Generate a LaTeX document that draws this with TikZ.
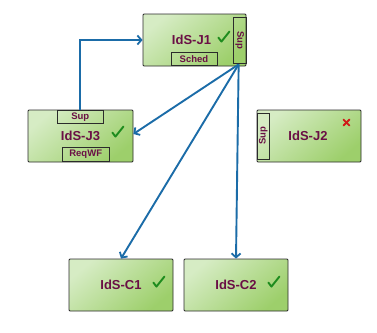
\documentclass[tikz,border=0pt]{standalone}
\usepackage{fontspec}
\setmainfont{Liberation Sans}
\usetikzlibrary{arrows.meta,calc}
\definecolor{gl}{HTML}{D6ECC4}
\definecolor{gd}{HTML}{9DCF6B}
\definecolor{txt}{HTML}{6A0F45}
\definecolor{edge}{HTML}{2B2B2B}
\definecolor{arr}{HTML}{1B6CA8}
\definecolor{ok}{HTML}{1E8C1E}
\definecolor{bad}{HTML}{D01818}
\tikzset{
  ids/.style={draw=edge, line width=0.8pt, rounded corners=1pt,
    top color=gl, bottom color=gd, shading angle=40,
    minimum width=104pt, minimum height=52pt, inner sep=0pt,
    text=txt, font=\bfseries\fontsize{13}{14}\selectfont},
  tabh/.style={draw=edge, line width=0.8pt, minimum width=46pt, minimum height=13pt,
    inner sep=0pt, text=txt, font=\bfseries\fontsize{9.5}{10}\selectfont},
  tabv/.style={draw=edge, line width=0.8pt, minimum width=12.7pt, minimum height=46pt,
    inner sep=0pt},
  tabtxt/.style={text=txt, font=\bfseries\fontsize{9.5}{10}\selectfont, inner sep=0pt},
  conn/.style={draw=arr, line width=1.9pt, -{Straight Barb[length=4pt,width=9pt,line width=1.8pt]}},
  okmark/.style={draw=ok, line width=1.9pt, line cap=round, line join=round},
  badmark/.style={draw=bad, line width=1.8pt, line cap=round}
}
\begin{document}
\begin{tikzpicture}[x=1pt,y=-1pt]
\useasboundingbox (0,0) rectangle (377,332);
\fill[white] (0,0) rectangle (377,332);
% boxes
\node[ids, minimum width=103pt] (j1) at (194.5,40) {\hspace*{-6pt}IdS-J1};
\node[ids, minimum width=105pt] (j3) at (80.5,136) {IdS-J3};
\node[ids] (j2) at (309,136) {\hspace*{-2pt}IdS-J2};
\node[ids] (c1) at (121,285) {IdS-C1};
\node[ids] (c2) at (236,285) {IdS-C2};
% tabs
\node[tabv, anchor=east] (j1sup) at (j1.east) {};
\node[tabtxt, rotate=-90] (j1suptxt) at (j1sup.center) {Sup};
\node[tabh, anchor=south] (j1sched) at (194,66) {Sched};
\node[tabh, anchor=north] (j3sup) at (80.3,110) {Sup};
\node[tabh, anchor=south, minimum width=46.7pt, minimum height=14pt] (j3req) at (85.7,162) {ReqWF};
\node[tabv, anchor=west] (j2sup) at (j2.west) {};
\node[tabtxt, rotate=90] (j2suptxt) at (j2sup.center) {Sup};
% status marks
\draw[okmark] ($(j1.north east)+(-28,24)$) -- ($(j1.north east)+(-25,28)$) -- ($(j1.north east)+(-17,18)$);
\draw[okmark] ($(j3.north east)+(-21,23)$) -- ($(j3.north east)+(-18,27)$) -- ($(j3.north east)+(-10,17)$);
\draw[okmark] ($(c1.north east)+(-20,24)$) -- ($(c1.north east)+(-17,28)$) -- ($(c1.north east)+(-9,18)$);
\draw[okmark] ($(c2.north east)+(-20,24)$) -- ($(c2.north east)+(-17,28)$) -- ($(c2.north east)+(-9,18)$);
\draw[badmark] ($(j2.north east)+(-18,10)$) -- ($(j2.north east)+(-12,16)$);
\draw[badmark] ($(j2.north east)+(-18,16)$) -- ($(j2.north east)+(-12,10)$);
% connectors
\coordinate (src) at ($(j1sup.south)+(-1,1)$);
\draw[conn] (j3sup.north) |- (j1.west);
\draw[conn] (src) -- ([yshift=2pt]j3.east);
\draw[conn] (src) -- (c1.north);
\draw[conn] (src) -- (c2.north);
\end{tikzpicture}
\end{document}
